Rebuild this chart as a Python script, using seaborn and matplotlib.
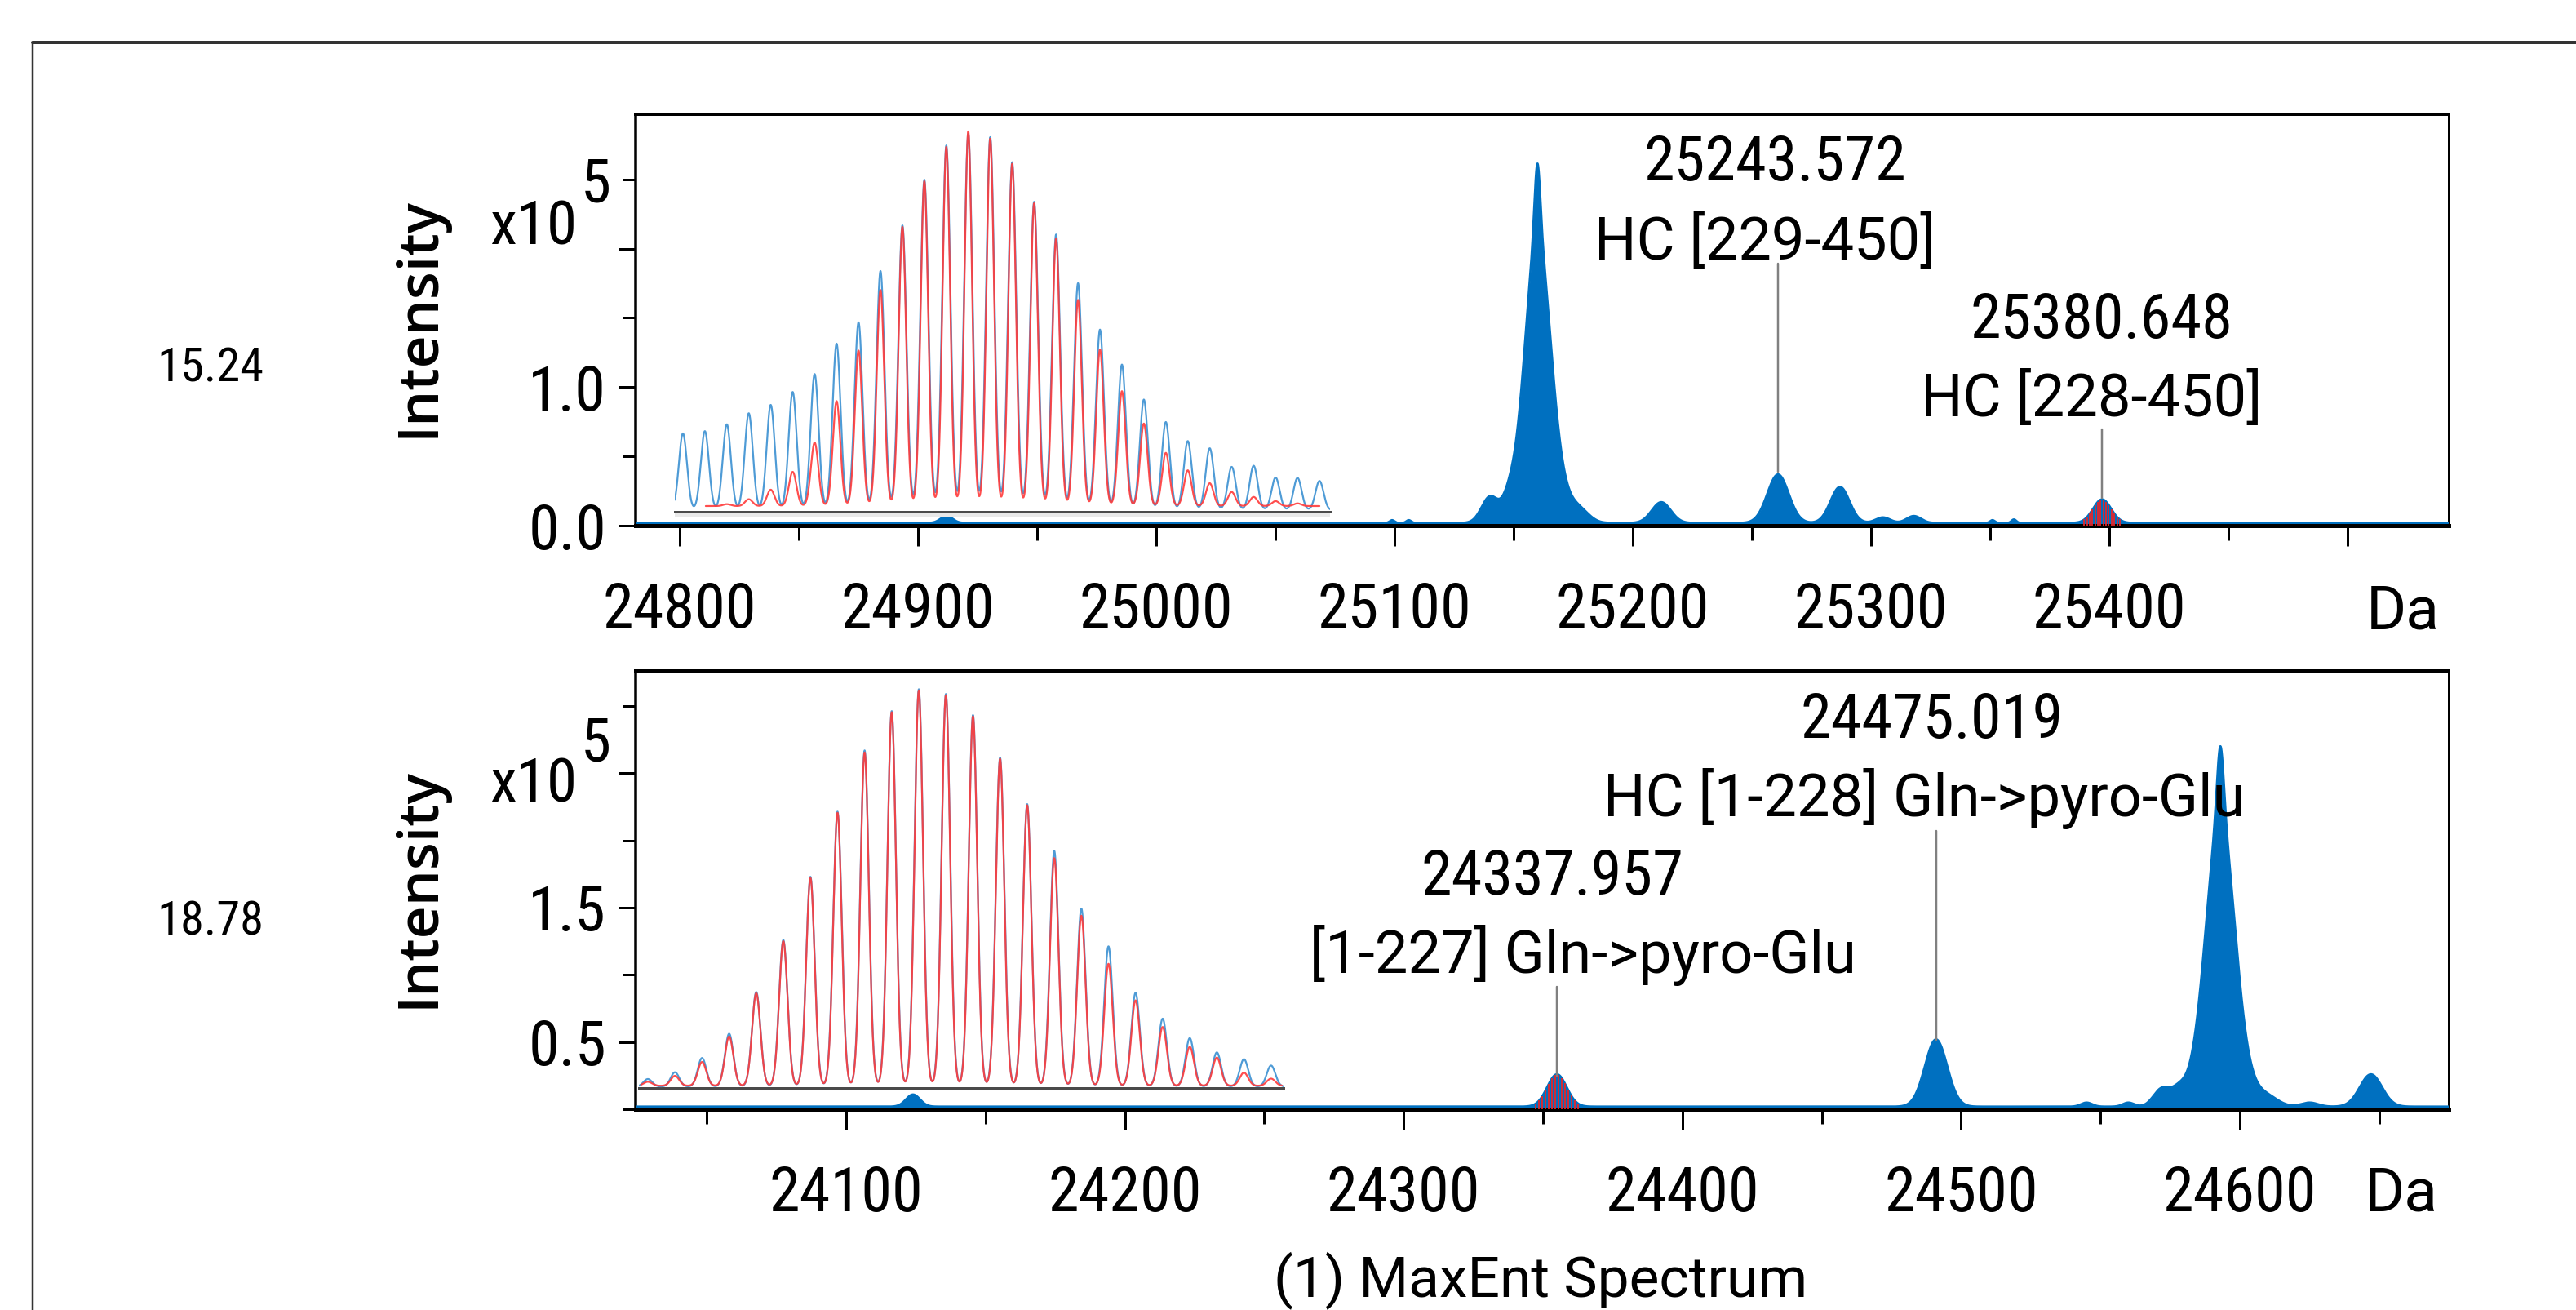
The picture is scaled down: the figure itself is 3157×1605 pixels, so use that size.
import os
import numpy as np
import matplotlib
matplotlib.use("Agg")
import matplotlib.pyplot as plt
import seaborn as sns
from matplotlib import font_manager as fm
from matplotlib.lines import Line2D

sns.set_theme(style="white")
plt.rcParams["font.family"] = ["Open Sans", "DejaVu Sans"]
plt.rcParams.update({"text.color": "black", "axes.edgecolor": "black",
                     "xtick.color": "black", "ytick.color": "black"})

# ---------------------------------------------------------------- data
rt_labels = ["15.24", "18.78"]

top_peak_da = [24912, 25099, 25106, 25140, 25148, 25160, 25160, 25161, 25178, 25212,
               25261, 25287, 25305, 25318, 25351, 25360, 25397]
top_peak_int = [0.05, 0.02, 0.02, 0.18, 0.08, 0.5, 1.45, 0.65, 0.07, 0.15,
                0.35, 0.26, 0.04, 0.05, 0.02, 0.025, 0.17]
top_peak_sd = [2.5, 1.0, 1.0, 3.5, 2.5, 1.2, 5.0, 7.5, 4.0, 4.0,
               4.5, 4.0, 3.0, 3.0, 1.0, 1.0, 3.8]
top_matched = [25397]
top_annot_peak = [25261, 25397]
top_annot_mass = ["25243.572", "25380.648"]
top_annot_name = ["HC [229-450]", "HC [228-450]"]
top_xticks = [24800, 24900, 25000, 25100, 25200, 25300, 25400, 25500]
top_xticklabels = ["24800", "24900", "25000", "25100", "25200", "25300", "25400", ""]
top_xminor = [24850, 24950, 25050, 25150, 25250, 25350, 25450]
top_yticks = [0.0, 1.0, 2.0]
top_yticklabels = ["0.0", "1.0", ""]
top_yminor = [0.5, 1.5, 2.5]

bot_peak_da = [24124, 24355, 24491, 24545, 24560, 24572, 24578, 24593, 24593, 24593,
               24610, 24625, 24647]
bot_peak_int = [0.09, 0.24, 0.50, 0.03, 0.03, 0.13, 0.08, 0.5, 1.5, 0.68,
                0.06, 0.03, 0.24]
bot_peak_sd = [2.5, 3.5, 4.0, 2.0, 2.0, 3.0, 2.5, 1.2, 4.8, 7.0,
               4.0, 3.0, 4.0]
bot_matched = [24355]
bot_annot_peak = [24355, 24491]
bot_annot_mass = ["24337.957", "24475.019"]
bot_annot_name = ["[1-227] Gln->pyro-Glu", "HC [1-228] Gln->pyro-Glu"]
bot_xticks = [24100, 24200, 24300, 24400, 24500, 24600]
bot_xticklabels = ["24100", "24200", "24300", "24400", "24500", "24600"]
bot_xminor = [24050, 24150, 24250, 24350, 24450, 24550, 24650]
bot_yticks = [0.5, 1.5, 2.5]
bot_yticklabels = ["0.5", "1.5", ""]
bot_yminor = [0.0, 1.0, 2.0, 3.0]

top_iso_blue = [20.2, 20.8, 22.6, 25.5, 27.7, 31.1, 35.8, 43.8, 49.4, 62.9,
                74.9, 86.9, 95.9, 99.0, 98.1, 91.5, 81.1, 72.5, 59.7, 47.5,
                38.3, 29.1, 23.2, 18.2, 16.3, 11.4, 11.7, 8.6, 8.5, 7.7]
top_iso_red = [1.5, 1.5, 2.0, 3.3, 5.8, 10.5, 18.2, 29.1, 42.4, 58.3,
               74.9, 86.9, 95.9, 100.0, 98.1, 91.5, 81.1, 71.9, 55.7, 42.7,
               31.7, 23.2, 15.5, 10.9, 7.5, 5.2, 3.9, 2.8, 2.2, 1.5]
bot_iso_blue = [1.9, 3.6, 7.2, 13.3, 23.8, 36.9, 52.8, 69.2, 84.6, 94.5,
                100.0, 98.8, 93.5, 82.8, 71.1, 59.3, 44.8, 35.3, 23.6, 17.1,
                12.2, 8.6, 6.9, 5.3]
bot_iso_red = [1.5, 3.0, 6.5, 12.9, 23.8, 36.9, 52.8, 69.2, 84.4, 94.5,
               100.0, 98.8, 93.5, 82.8, 71.1, 57.8, 43.3, 31.2, 22.0, 15.3,
               10.3, 7.6, 3.8, 2.3]

x_unit = "Da"
y_title = "Intensity"
exp_base = "x10"
exp_power = "5"
footer = "(1) MaxEnt Spectrum"

# ---------------------------------------------------------------- setup
W, H, DPI = 3157, 1605, 100
PT = 72.0 / DPI
BLUE = "#0070C0"
RED = "#E3262C"
ISO_BLUE = "#4E9BD6"
ISO_RED = "#FF3B3B"

ALL_FILES = {}
for _f in fm.fontManager.ttflist:
    ALL_FILES.setdefault(os.path.basename(_f.fname), _f.fname)


def font_maker(preferred_files, family, weight):
    for name in preferred_files:
        if name in ALL_FILES:
            path = ALL_FILES[name]
            return lambda size: fm.FontProperties(fname=path, size=size)
    return lambda size: fm.FontProperties(family=family, weight=weight, size=size)


fp_cond = font_maker(["RobotoCondensed-Regular.ttf", "FiraSansCondensed-Regular.ttf",
                      "IBMPlexSansCondensed-Regular.ttf", "DejaVuSansCondensed.ttf"],
                     "Open Sans", "normal")
fp_word = font_maker(["Roboto-Regular.ttf", "DejaVuSansCondensed.ttf"], "Roboto", "normal")
fp_bold = font_maker(["OpenSans-Semibold.ttf", "OpenSans-SemiBold.ttf",
                      "NotoSans-SemiBold.ttf"], "Open Sans", "semibold")


def rect(l, t, r, b):
    return [l / W, 1 - b / H, (r - l) / W, (b - t) / H]


def F(x, y):
    return x / W, 1 - y / H


def profile(x, centers, heights, widths, base=0.0):
    x = np.asarray(x, float)
    c = np.asarray(centers, float)[:, None]
    h = np.asarray(heights, float)[:, None]
    w = np.broadcast_to(np.asarray(widths, float), (c.shape[0],))[:, None]
    return base + (h * np.exp(-0.5 * ((x[None, :] - c) / w) ** 2)).sum(axis=0)


fig = plt.figure(figsize=(W / DPI, H / DPI), dpi=DPI)
fig.patch.set_facecolor("white")

SPEC_BASE = 0.02


def draw_panel(ax, xlim, ylim, da, inten, sd, matched,
               xmaj, xlab, xmin, ymaj, ylab, ymin):
    x = np.linspace(xlim[0], xlim[1], 12000)
    y = profile(x, da, inten, sd, SPEC_BASE)
    ax.fill_between(x, 0, y, color=BLUE, lw=0, zorder=2)
    sns.lineplot(x=x, y=y, ax=ax, color=BLUE, lw=2.6 * PT,
                 estimator=None, sort=False, zorder=3)
    for m in matched:
        xs = np.arange(m - 7.5, m + 7.6, 1.15)
        ys = profile(xs, da, inten, sd, SPEC_BASE)
        ax.vlines(xs, 0, ys, color=RED, lw=1.8 * PT, zorder=4)
    ax.set_xlim(xlim)
    ax.set_ylim(ylim)
    ax.set_xlabel("")
    ax.set_ylabel("")
    ax.set_facecolor("white")
    ax.set_xticks(xmaj)
    ax.set_xticklabels(xlab)
    ax.set_xticks(xmin, minor=True)
    ax.set_yticks(ymaj)
    ax.set_yticklabels(ylab)
    ax.set_yticks(ymin, minor=True)
    ax.tick_params(axis="x", which="major", direction="out", length=25 * PT,
                   width=3 * PT, pad=43 * PT, bottom=True, top=False)
    ax.tick_params(axis="x", which="minor", direction="out", length=18 * PT,
                   width=3 * PT, bottom=True, top=False)
    ax.tick_params(axis="y", which="major", direction="out", length=21 * PT,
                   width=3 * PT, pad=15 * PT, left=True, right=False)
    ax.tick_params(axis="y", which="minor", direction="out", length=16 * PT,
                   width=3 * PT, left=True, right=False)
    for lab in ax.get_xticklabels() + ax.get_yticklabels():
        lab.set_fontproperties(fp_cond(55))
    ax.spines["top"].set_linewidth(4 * PT)
    ax.spines["bottom"].set_linewidth(5 * PT)
    ax.spines["left"].set_linewidth(3.5 * PT)
    ax.spines["right"].set_linewidth(3 * PT)
    for s in ax.spines.values():
        s.set_color("black")
        s.set_visible(True)
    ax.grid(False)


def draw_inset(rpx, xlim, ylim, blue_vals, red_vals, blue_sd, red_sd,
               blue_base, red_base, red_span, band, ticks):
    axI = fig.add_axes(rect(*rpx))
    axI.patch.set_alpha(0)
    idx = np.arange(1, len(blue_vals) + 1)
    xb = np.linspace(xlim[0], xlim[1], 6000)
    yb = profile(xb, idx, blue_vals, blue_sd, blue_base)
    xr = np.linspace(red_span[0], red_span[1], 6000)
    red_amp = np.maximum(np.asarray(red_vals) - red_base, 0)
    yr = profile(xr, idx, red_amp, red_sd, red_base)
    sns.lineplot(x=xb, y=yb, ax=axI, color=ISO_BLUE, lw=2.2 * PT,
                 estimator=None, sort=False, zorder=3)
    sns.lineplot(x=xr, y=yr, ax=axI, color=ISO_RED, lw=2.2 * PT, alpha=0.9,
                 estimator=None, sort=False, zorder=4)
    axI.set_xlim(xlim)
    axI.set_ylim(ylim)
    axI.set_xlabel("")
    axI.set_ylabel("")
    if band:
        axI.axhspan(ylim[0], 0, color="#e8e8e8", lw=0, zorder=1)
    for k in ["top", "left", "right"]:
        axI.spines[k].set_visible(False)
    axI.spines["bottom"].set_position(("data", 0))
    axI.spines["bottom"].set_color("#4a4a4a")
    axI.spines["bottom"].set_linewidth(3 * PT)
    axI.set_yticks([])
    axI.set_xticks(ticks)
    axI.tick_params(axis="x", direction="out", length=6 * PT, width=1.6 * PT,
                    color="#4a4a4a", labelbottom=False, bottom=len(ticks) > 0)
    axI.grid(False)
    return axI


axT = fig.add_axes(rect(779, 140, 3001, 644))
draw_panel(axT, (24781.5, 25542.5), (0, 2.97), top_peak_da, top_peak_int,
           top_peak_sd, top_matched, top_xticks, top_xticklabels, top_xminor,
           top_yticks, top_yticklabels, top_yminor)

axB = fig.add_axes(rect(779, 822, 3001, 1359))
draw_panel(axB, (24024.5, 24674.9), (0, 3.26), bot_peak_da, bot_peak_int,
           bot_peak_sd, bot_matched, bot_xticks, bot_xticklabels, bot_xminor,
           bot_yticks, bot_yticklabels, bot_yminor)

draw_inset((827, 140, 1630, 633), (0.63, 30.48), (-1.29, 104.5),
           top_iso_blue, top_iso_red, 0.185, 0.17, 0.4, 1.5, (2.04, 30.0),
           True, np.arange(2.36, 30.48, 2.5))
draw_inset((783, 822, 1573, 1336), (0.67, 24.46), (-0.68, 104.9),
           bot_iso_blue, bot_iso_red, 0.158, 0.155, 0.3, 0.5, (0.75, 24.4),
           False, [])

LEAD = "#808080"
num_fp = fp_cond(55)
name_fp = fp_word(52)
axT.text(25259.9, 2.493, top_annot_mass[0], fontproperties=num_fp, ha="center", va="baseline")
axT.text(25255.5, 1.921, top_annot_name[0], fontproperties=name_fp, ha="center", va="baseline")
axT.plot([top_annot_peak[0]] * 2, [1.89, 0.39], color=LEAD, lw=2.5 * PT, zorder=5)
axT.text(25396.6, 1.355, top_annot_mass[1], fontproperties=num_fp, ha="center", va="baseline")
axT.text(25392.5, 0.790, top_annot_name[1], fontproperties=name_fp, ha="center", va="baseline")
axT.plot([top_annot_peak[1]] * 2, [0.695, 0.20], color=LEAD, lw=2.5 * PT, zorder=5)
axB.text(24353.2, 1.597, bot_annot_mass[0], fontproperties=num_fp, ha="center", va="baseline")
axB.text(24364.3, 1.014, bot_annot_name[0], fontproperties=name_fp, ha="center", va="baseline")
axB.plot([bot_annot_peak[0]] * 2, [0.911, 0.249], color=LEAD, lw=2.5 * PT, zorder=5)
axB.text(24489.6, 2.763, bot_annot_mass[1], fontproperties=num_fp, ha="center", va="baseline")
axB.text(24486.7, 2.180, bot_annot_name[1], fontproperties=name_fp, ha="center", va="baseline")
axB.plot([bot_annot_peak[1]] * 2, [2.07, 0.516], color=LEAD, lw=2.5 * PT, zorder=5)

fig.text(*F(258, 468), rt_labels[0], fontproperties=fp_cond(42), ha="center", va="baseline")
fig.text(*F(258, 1145), rt_labels[1], fontproperties=fp_cond(42), ha="center", va="baseline")
fig.text(*F(514, 389), y_title, fontproperties=fp_bold(50), rotation=90, ha="center", va="center")
fig.text(*F(514, 1088), y_title, fontproperties=fp_bold(50), rotation=90, ha="center", va="center")
fig.text(*F(707, 299), exp_base, fontproperties=fp_cond(54), ha="right", va="baseline")
fig.text(*F(712, 248), exp_power, fontproperties=fp_cond(54), ha="left", va="baseline")
fig.text(*F(707, 982), exp_base, fontproperties=fp_cond(54), ha="right", va="baseline")
fig.text(*F(712, 932), exp_power, fontproperties=fp_cond(54), ha="left", va="baseline")
fig.text(*F(2945, 770), x_unit, fontproperties=fp_word(54), ha="center", va="baseline")
fig.text(*F(2943, 1483), x_unit, fontproperties=fp_word(54), ha="center", va="baseline")
fig.text(*F(1888, 1588), footer, fontproperties=fp_word(50), ha="center", va="baseline")

fig.add_artist(Line2D([40 / W, 1.0], [1 - 51.5 / H] * 2, transform=fig.transFigure,
                      color="#333333", lw=4 * PT))
fig.add_artist(Line2D([40 / W] * 2, [1 - 51.5 / H, 0.0], transform=fig.transFigure,
                      color="#333333", lw=2.5 * PT))

fig.savefig("out.png", dpi=DPI, facecolor="white")
